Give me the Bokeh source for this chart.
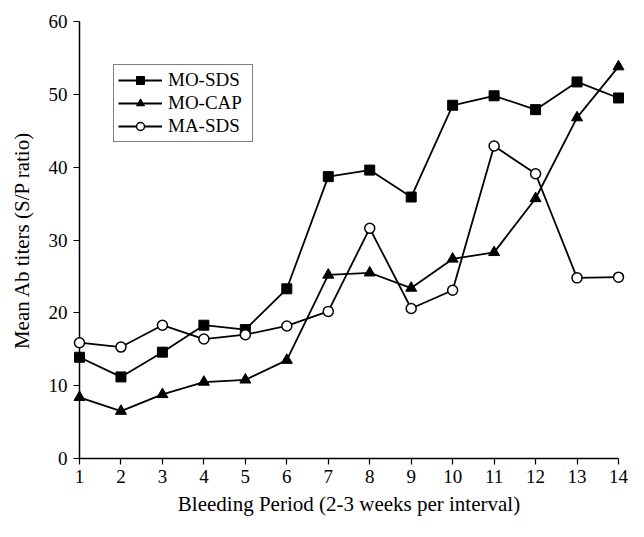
from bokeh.plotting import figure
from bokeh.models import Range1d, Legend, LegendItem, FixedTicker
from bokeh.embed import file_html
from bokeh.resources import INLINE

periods = list(range(1, 15))
mo_sds = [13.9, 11.2, 14.6, 18.3, 17.7, 23.3, 38.7, 39.6, 35.9, 48.5, 49.8, 47.9, 51.7, 49.5]
mo_cap = [8.4, 6.5, 8.8, 10.5, 10.8, 13.5, 25.2, 25.5, 23.4, 27.4, 28.3, 35.7, 46.8, 53.8]
ma_sds = [15.9, 15.3, 18.3, 16.4, 17.0, 18.2, 20.2, 31.6, 20.6, 23.1, 42.9, 39.1, 24.8, 24.9]
x_ticks = list(range(1, 15))
y_ticks = [0, 10, 20, 30, 40, 50, 60]

FONT = "Liberation Serif"

p = figure(width=628, height=521, output_backend="svg", toolbar_location=None,
           x_range=Range1d(1, 14), y_range=Range1d(0, 60),
           min_border_left=79, min_border_right=10, min_border_top=21, min_border_bottom=63)
p.outline_line_color = None
p.grid.grid_line_color = None
p.background_fill_color = "white"
p.border_fill_color = "white"

for ax, ticks in ((p.xaxis[0], x_ticks), (p.yaxis[0], y_ticks)):
    ax.ticker = FixedTicker(ticks=ticks)
    ax.major_tick_in = 0
    ax.major_tick_out = 6
    ax.minor_tick_out = 0
    ax.minor_tick_in = 0
    ax.axis_line_width = 1.5
    ax.major_tick_line_width = 1.2
    ax.axis_line_color = "black"
    ax.major_tick_line_color = "black"
    ax.major_label_text_font = FONT
    ax.major_label_text_font_size = "19px"
    ax.major_label_text_color = "black"
    ax.axis_label_text_font = FONT
    ax.axis_label_text_font_size = "21px"
    ax.axis_label_text_font_style = "normal"
    ax.axis_label_text_color = "black"

p.xaxis.axis_label = "Bleeding Period (2-3 weeks per interval)"
p.yaxis.axis_label = "Mean Ab titers (S/P ratio)"
p.xaxis.major_label_standoff = 5
p.xaxis.axis_label_standoff = 6
p.yaxis.major_label_standoff = 6
p.yaxis.axis_label_standoff = 12

lw = 1.8
l1 = p.line(periods, mo_sds, line_color="black", line_width=lw)
m1 = p.scatter(periods, mo_sds, marker="square", size=10, fill_color="black", line_color="black")
l2 = p.line(periods, mo_cap, line_color="black", line_width=lw)
m2 = p.scatter(periods, mo_cap, marker="triangle", size=11, fill_color="black", line_color="black")
l3 = p.line(periods, ma_sds, line_color="black", line_width=lw)
m3 = p.scatter(periods, ma_sds, marker="circle", size=10, fill_color="white", line_color="black", line_width=1.5)
for r in (l1, l2, l3, m1, m2, m3):
    r.level = "overlay"

legend = Legend(items=[
    LegendItem(label="MO-SDS", renderers=[l1, m1]),
    LegendItem(label="MO-CAP", renderers=[l2, m2]),
    LegendItem(label="MA-SDS", renderers=[l3, m3]),
], location=(34, 316))
legend.label_text_font = FONT
legend.label_text_font_size = "19px"
legend.label_text_color = "black"
legend.border_line_color = "black"
legend.border_line_width = 1.5
legend.background_fill_alpha = 1
legend.glyph_width = 44
legend.glyph_height = 20
legend.label_height = 20
legend.label_width = 80
legend.label_standoff = 6
legend.spacing = 1
legend.padding = 4
legend.margin = 0
p.add_layout(legend)

open("out.html", "w").write(file_html(p, INLINE))
